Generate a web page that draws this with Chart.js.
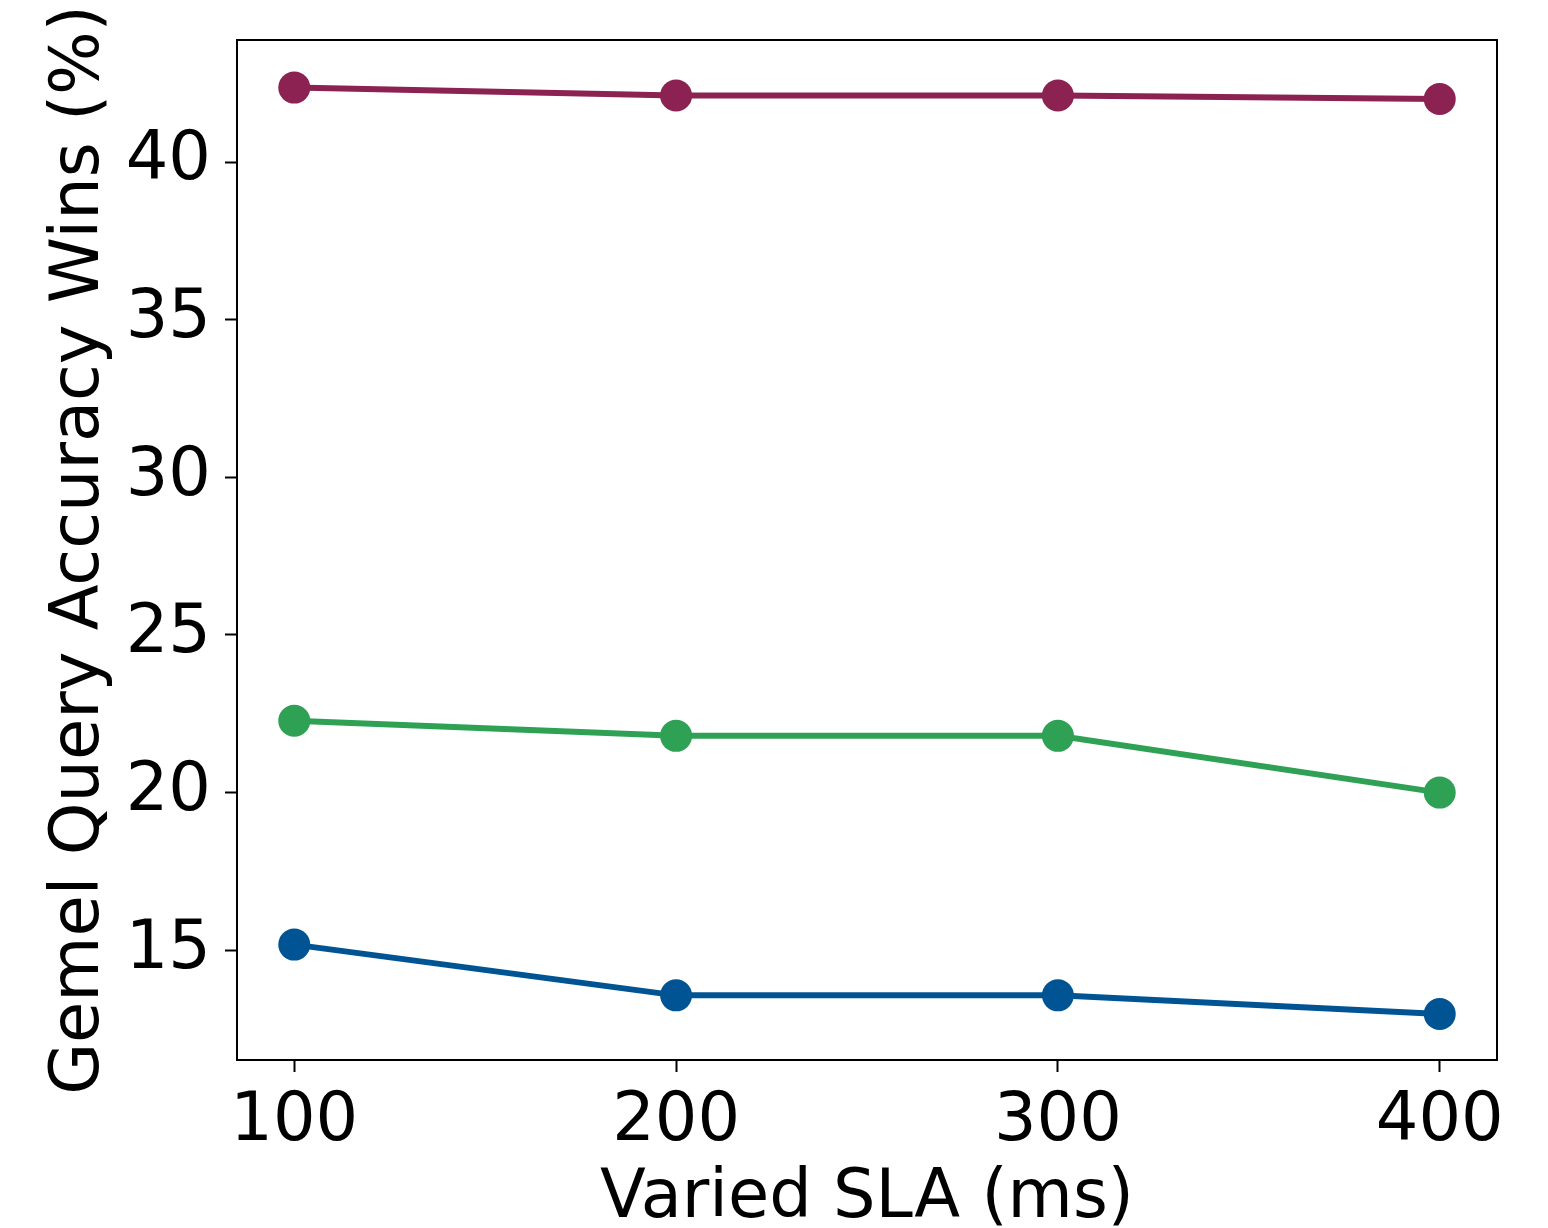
<!DOCTYPE html>
<html>
<head>
<meta charset="utf-8">
<script src="https://cdn.jsdelivr.net/npm/chart.js@4"></script>
<style>
  html, body { margin: 0; padding: 0; background: #fff; }
  #wrap { width: 1548px; height: 1228px; }
</style>
</head>
<body>
<div id="wrap"><canvas id="chart" width="1548" height="1228"></canvas></div>
<script>
// SLA budgets on the x axis
const slaValues = [100, 200, 300, 400];
const xTicks = [100, 200, 300, 400];
const yTicks = [15, 20, 25, 30, 35, 40];

// accuracy wins per series (%)
const winsTop = [42.36, 42.11, 42.11, 42.0];
const winsMid = [22.28, 21.8, 21.8, 20.0];
const winsLow = [15.18, 13.57, 13.57, 12.98];

const FONT = "'DejaVu Sans', sans-serif";

function toPoints(vals) {
  return slaValues.map((x, i) => ({ x: x, y: vals[i] }));
}

function series(vals, color) {
  return {
    data: toPoints(vals),
    borderColor: color,
    backgroundColor: color,
    borderWidth: 6,
    pointRadius: 16,
    pointHoverRadius: 16,
    pointBorderWidth: 0,
    tension: 0,
  };
}

// black frame round the plot area
const frame = {
  id: "frame",
  afterDraw(chart) {
    const { ctx, chartArea: a } = chart;
    ctx.save();
    ctx.strokeStyle = "#000";
    ctx.lineWidth = 2;
    ctx.strokeRect(a.left, a.top, a.right - a.left, a.bottom - a.top);
    ctx.restore();
  },
};

const ctx = document.getElementById("chart").getContext("2d");

new Chart(ctx, {
  type: "line",
  data: {
    datasets: [
      series(winsTop, "#8B2252"),
      series(winsMid, "#2FA155"),
      series(winsLow, "#005493"),
    ],
  },
  options: {
    responsive: false,
    animation: false,
    layout: { padding: { left: 0, right: 51, top: 40, bottom: 0 } },
    plugins: {
      legend: { display: false },
      tooltip: { enabled: false },
    },
    scales: {
      x: {
        type: "linear",
        min: 85,
        max: 415,
        afterBuildTicks: (s) => { s.ticks = xTicks.map((v) => ({ value: v })); },
        afterFit: (s) => {
          s.height = 168;
          s.paddingLeft = 0;
          s.paddingRight = 0;
        },
        border: { display: false },
        grid: {
          drawOnChartArea: false,
          drawTicks: true,
          tickLength: 12,
          tickWidth: 2,
          tickColor: "#000",
        },
        ticks: {
          color: "#000",
          padding: 10,
          maxRotation: 0,
          font: { family: FONT, size: 67 },
        },
        title: {
          display: true,
          text: "Varied SLA (ms)",
          color: "#000",
          font: { family: FONT, size: 67, lineHeight: 1 },
          padding: { top: 0, bottom: -5 },
        },
      },
      y: {
        type: "linear",
        min: 11.52,
        max: 43.87,
        afterBuildTicks: (s) => { s.ticks = yTicks.map((v) => ({ value: v })); },
        afterFit: (s) => {
          s.width = 237;
          s.paddingTop = 0;
          s.paddingBottom = 0;
        },
        border: { display: false },
        grid: {
          drawOnChartArea: false,
          drawTicks: true,
          tickLength: 12,
          tickWidth: 2,
          tickColor: "#000",
        },
        ticks: {
          color: "#000",
          padding: 14,
          font: { family: FONT, size: 67 },
        },
        title: {
          display: true,
          text: "Gemel Query Accuracy Wins (%)",
          color: "#000",
          font: { family: FONT, size: 67, lineHeight: 1 },
          padding: { top: 47, bottom: 0 },
        },
      },
    },
  },
  plugins: [frame],
});
</script>
</body>
</html>
